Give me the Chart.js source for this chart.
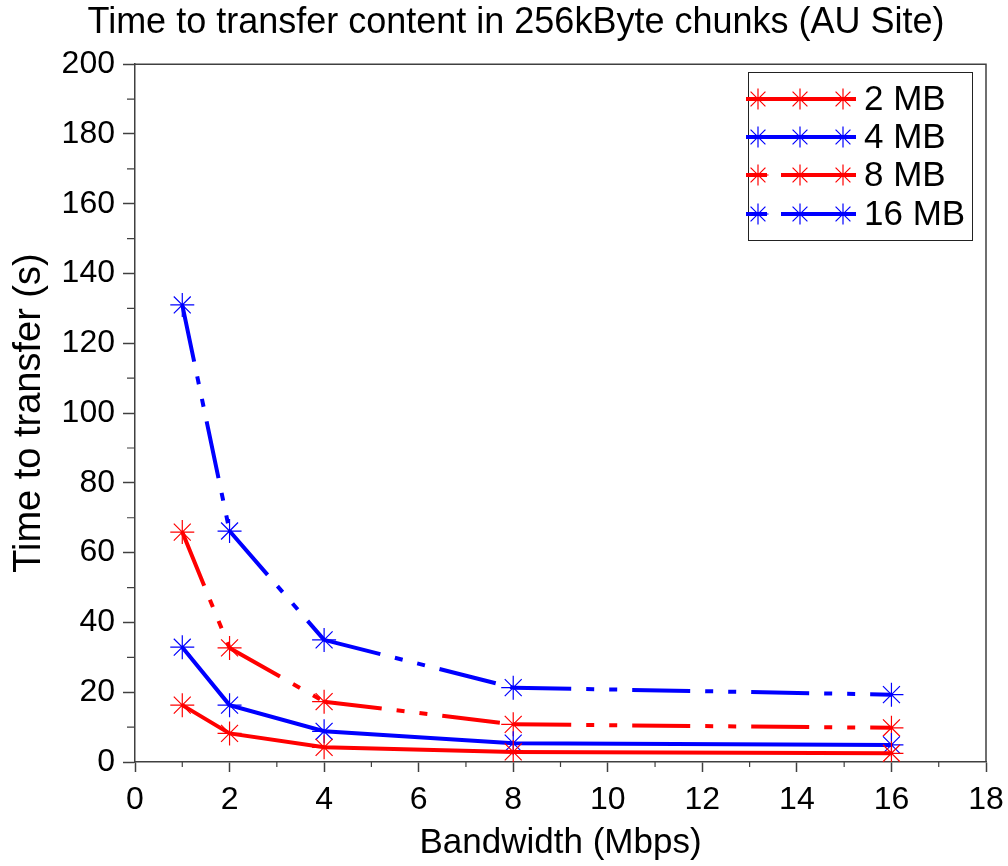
<!DOCTYPE html>
<html><head><meta charset="utf-8">
<script src="https://cdn.jsdelivr.net/npm/chart.js@4.4.0/dist/chart.umd.min.js"></script>
<style>html,body{margin:0;padding:0;background:#fff;}#wrap{width:1008px;height:866px;}</style>
</head><body><div id="wrap"><canvas id="c" width="1008" height="866"></canvas></div>
<script>
// ---- data ----
const bandwidth = [1, 2, 4, 8, 16];
const seriesNames = ['2 MB', '4 MB', '8 MB', '16 MB'];
const time2MB  = [16.3, 8.2, 4.2, 2.9, 2.5];
const time4MB  = [32.9, 16.3, 8.8, 5.4, 4.9];
const time8MB  = [65.9, 32.7, 17.3, 10.8, 9.8];
const time16MB = [131.0, 66.2, 35.0, 21.3, 19.3];
const xTickLabels = [0, 2, 4, 6, 8, 10, 12, 14, 16, 18];
const yTickLabels = [0, 20, 40, 60, 80, 100, 120, 140, 160, 180, 200];
const xMinorTicks = [1, 3, 5, 7, 9, 11, 13, 15, 17];
const yMinorTicks = [10, 30, 50, 70, 90, 110, 130, 150, 170, 190];

const RED = '#ff0000', BLUE = '#0000ff', AXIS = '#404040';
const DASHDOT = [58, 15, 8, 15, 8, 15];
const FONT = "'Liberation Sans', Arial, Helvetica, sans-serif";
Chart.defaults.font.family = FONT;
Chart.defaults.color = '#000';

function mk(label, values, color, dashed) {
  const ds = {
    label: label,
    data: bandwidth.map((b, i) => ({x: b, y: values[i]})),
    borderColor: color,
    backgroundColor: color,
    borderWidth: 4,
    borderDash: dashed ? DASHDOT : [],
    tension: 0,
    pointStyle: 'star',
    pointRadius: 12,
    pointHoverRadius: 12,
    pointBorderWidth: 1.2,
    pointBorderColor: color,
    pointBackgroundColor: color,
    fill: false,
    _dashed: dashed
  };
  if (dashed) {
    // restart the dash pattern at every data point
    ds.segment = { borderDashOffset: c => c.p0DataIndex * 0.0001 };
  }
  return ds;
}

const datasets = [
  mk(seriesNames[0], time2MB, RED, false),
  mk(seriesNames[1], time4MB, BLUE, false),
  mk(seriesNames[2], time8MB, RED, true),
  mk(seriesNames[3], time16MB, BLUE, true)
];

const framePlugin = {
  id: 'frame',
  afterLayout(chart) {
    const tb = chart.titleBlock;
    if (tb) { tb.left = 0; tb.right = 1032; }
  },
  afterDraw(chart) {
    const ctx = chart.ctx, a = chart.chartArea;
    const xs = chart.scales.x, ys = chart.scales.y;
    ctx.save();
    ctx.strokeStyle = AXIS;
    ctx.lineWidth = 1.5;
    // top and right frame
    ctx.beginPath();
    ctx.moveTo(a.left, a.top); ctx.lineTo(a.right, a.top); ctx.lineTo(a.right, a.bottom);
    ctx.stroke();
    // minor ticks
    ctx.lineWidth = 1.2;
    ctx.beginPath();
    xMinorTicks.forEach(v => { const px = xs.getPixelForValue(v); ctx.moveTo(px, a.bottom); ctx.lineTo(px, a.bottom + 5); });
    yMinorTicks.forEach(v => { const py = ys.getPixelForValue(v); ctx.moveTo(a.left, py); ctx.lineTo(a.left - 8, py); });
    ctx.stroke();

    // legend
    const bx = 748, by = 72, bw = 224, bh = 168;
    ctx.fillStyle = '#fff';
    ctx.fillRect(bx, by, bw, bh);
    ctx.strokeStyle = '#222';
    ctx.lineWidth = 1;
    ctx.strokeRect(bx + 0.5, by + 0.5, bw, bh);
    const rowsY = [99, 137, 175, 214];
    chart.data.datasets.forEach((ds, i) => {
      const y = rowsY[i];
      ctx.save();
      ctx.strokeStyle = ds.borderColor;
      ctx.lineWidth = 4;
      ctx.setLineDash(ds._dashed ? [21, 14, 200] : []);
      ctx.beginPath(); ctx.moveTo(746, y); ctx.lineTo(856, y); ctx.stroke();
      ctx.restore();
      ctx.save();
      ctx.strokeStyle = ds.borderColor;
      ctx.fillStyle = ds.borderColor;
      ctx.lineWidth = 1.2;
      [758, 800, 843].forEach(mx => {
        Chart.helpers.drawPoint(ctx, {pointStyle: 'star', radius: 10.5, borderWidth: 1.2}, mx, y);
      });
      ctx.restore();
      ctx.fillStyle = '#000';
      ctx.font = '35px ' + FONT;
      ctx.textAlign = 'left';
      ctx.textBaseline = 'middle';
      ctx.fillText(ds.label, 864, y + 1);
    });
    ctx.restore();
  }
};

new Chart(document.getElementById('c'), {
  type: 'line',
  data: { datasets: datasets },
  plugins: [framePlugin],
  options: {
    responsive: false,
    devicePixelRatio: 1,
    animation: false,
    layout: { padding: { left: 0, right: 22, top: 0, bottom: 0 } },
    plugins: {
      legend: { display: false },
      tooltip: { enabled: false },
      title: {
        display: true,
        text: 'Time to transfer content in 256kByte chunks (AU Site)',
        color: '#000',
        font: { size: 36, weight: 'normal', family: FONT },
        padding: { top: 1, bottom: 20 }
      }
    },
    scales: {
      x: {
        type: 'linear',
        min: xTickLabels[0],
        max: xTickLabels[xTickLabels.length - 1],
        afterBuildTicks: s => { s.ticks = xTickLabels.map(v => ({value: v})); },
        ticks: { font: { size: 32 }, color: '#000', padding: 9, maxRotation: 0, autoSkip: false },
        grid: { drawOnChartArea: false, drawTicks: true, tickLength: 10, tickColor: AXIS, tickWidth: 1.5 },
        border: { color: AXIS, width: 1.5 },
        title: { display: true, text: 'Bandwidth (Mbps)', color: '#000', font: { size: 35 }, padding: { top: 0, bottom: 2 } },
        afterFit: s => { s.height = 104; s.paddingLeft = 0; s.paddingRight = 0; }
      },
      y: {
        type: 'linear',
        min: yTickLabels[0],
        max: yTickLabels[yTickLabels.length - 1],
        afterBuildTicks: s => { s.ticks = yTickLabels.map(v => ({value: v})); },
        ticks: { font: { size: 32 }, color: '#000', padding: 8, autoSkip: false },
        grid: { drawOnChartArea: false, drawTicks: true, tickLength: 12, tickColor: AXIS, tickWidth: 1.5 },
        border: { color: AXIS, width: 1.5 },
        title: { display: true, text: 'Time to transfer (s)', color: '#000', font: { size: 38 }, padding: { top: 7, bottom: 0 } },
        afterFit: s => { s.width = 135; s.paddingTop = 0; s.paddingBottom = 0; }
      }
    }
  }
});
</script>
</body></html>
